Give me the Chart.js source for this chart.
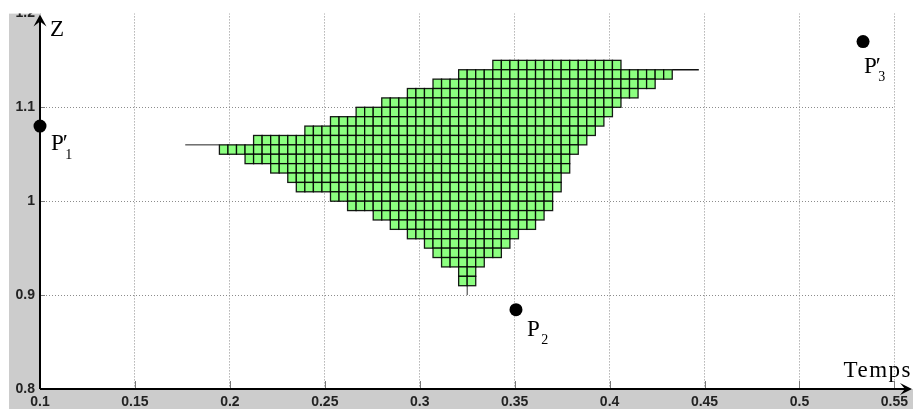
<!DOCTYPE html>
<html>
<head>
<meta charset="utf-8">
<script src="https://cdn.jsdelivr.net/npm/chart.js@4.4.0/dist/chart.umd.min.js"></script>
<style>
  html, body { margin: 0; padding: 0; background: #ffffff; overflow: hidden; }
  #wrap { width: 913px; height: 409px; }
</style>
</head>
<body>
<div id="wrap"><canvas id="c" width="913" height="409"></canvas></div>
<script>
// Axis ticks
const xTickValues = [0.1, 0.15, 0.2, 0.25, 0.3, 0.35, 0.4, 0.45, 0.5, 0.55];
const xTickLabels = ['0.1', '0.15', '0.2', '0.25', '0.3', '0.35', '0.4', '0.45', '0.5', '0.55'];
const yTickValues = [0.8, 0.9, 1.0, 1.1, 1.2];
const yTickLabels = ['0.8', '0.9', '1', '1.1', '1.2'];

// Reachable region: one row of cells per Z band (bottom Z, first and last time edge)
const cellWidth = 0.0045;
const cellHeight = 0.01;
const rowZ     = [1.14,   1.13,   1.12,  1.11,   1.10, 1.09,   1.08,  1.07,   1.06,   1.05,   1.04,  1.03,   1.02,   1.01,   1.00,  0.99,  0.98,   0.97,   0.96,   0.95,   0.94,  0.93,   0.92,   0.91];
const rowStart = [0.3385, 0.3205, 0.307, 0.2935, 0.28, 0.2665, 0.253, 0.2395, 0.2125, 0.1945, 0.208, 0.2215, 0.2305, 0.235,  0.253, 0.262, 0.2755, 0.2845, 0.2935, 0.3025, 0.307, 0.3115, 0.3205, 0.3205];
const rowEnd   = [0.406,  0.433,  0.424, 0.415,  0.406, 0.4015, 0.397, 0.3925, 0.388, 0.3835, 0.379, 0.379,  0.3745, 0.3745, 0.37,  0.37,  0.3655, 0.361,  0.352,  0.3475, 0.343, 0.334,  0.3295, 0.3295];

// Thin boundary segments attached to the region
const leftStubT   = [0.1765, 0.1945];
const leftStubZ   = [1.06, 1.06];
const rightStubT  = [0.433, 0.447];
const rightStubZ  = [1.14, 1.14];
const bottomStubT = [0.325, 0.325];
const bottomStubZ = [0.90, 0.91];

// Named points
const pointBase  = ['P', 'P', 'P'];
const pointSub   = ['1', '2', '3'];
const pointPrime = [true, false, true];
const pointT     = [0.1, 0.3507, 0.5335];
const pointZ     = [1.08, 0.8845, 1.17];

// Label placement (pixel offsets from each point)
const labelDx = [11, 11, 1];
const labelDy = [24, 26, 31];

const toXY = (ts, zs) => ts.map((t, i) => ({ x: t, y: zs[i] }));

const figurePlugin = {
  id: 'figure',
  beforeDraw(chart) {
    const { ctx, chartArea: a } = chart;
    ctx.save();
    ctx.fillStyle = '#ffffff';
    ctx.fillRect(0, 0, chart.width, chart.height);
    ctx.fillStyle = '#cccccc';
    ctx.fillRect(9, a.top, a.left - 9, chart.height - a.top);
    ctx.fillRect(9, a.bottom, chart.width - 9, chart.height - a.bottom);
    ctx.restore();
  },
  beforeDatasetsDraw(chart) {
    const { ctx, chartArea: a } = chart;
    const xs = chart.scales.x, ys = chart.scales.y;
    ctx.save();
    // trim everything above the axes box
    ctx.fillStyle = '#ffffff';
    ctx.fillRect(0, 0, chart.width, a.top);

    // cells
    for (let i = 0; i < rowZ.length; i++) {
      const n = Math.round((rowEnd[i] - rowStart[i]) / cellWidth);
      const yTop = ys.getPixelForValue(rowZ[i] + cellHeight);
      const yBot = ys.getPixelForValue(rowZ[i]);
      for (let j = 0; j < n; j++) {
        const t0 = rowStart[i] + j * cellWidth;
        const x0 = xs.getPixelForValue(t0);
        const x1 = xs.getPixelForValue(t0 + cellWidth);
        ctx.fillStyle = '#8cff80';
        ctx.fillRect(x0, yTop, x1 - x0, yBot - yTop);
        ctx.strokeStyle = 'rgba(0,0,0,0.9)';
        ctx.lineWidth = 1.3;
        ctx.strokeRect(x0, yTop, x1 - x0, yBot - yTop);
      }
    }

    // inward tick marks
    ctx.strokeStyle = '#7a7a7a';
    ctx.lineWidth = 1;
    xTickValues.forEach(v => {
      const x = Math.round(xs.getPixelForValue(v)) + 0.5;
      ctx.beginPath();
      ctx.moveTo(x, a.bottom);
      ctx.lineTo(x, a.bottom - 8);
      ctx.stroke();
    });
    yTickValues.forEach(v => {
      if (v === 1.2) return;
      const y = Math.round(ys.getPixelForValue(v)) + 0.5;
      ctx.beginPath();
      ctx.moveTo(a.left, y);
      ctx.lineTo(a.left + 5, y);
      ctx.stroke();
    });

    // axes with arrow heads
    ctx.strokeStyle = '#000000';
    ctx.fillStyle = '#000000';
    ctx.lineWidth = 2;
    ctx.beginPath();
    ctx.moveTo(a.left, a.bottom);
    ctx.lineTo(a.left, a.top + 6);
    ctx.moveTo(a.left, a.bottom);
    ctx.lineTo(chart.width - 6, a.bottom);
    ctx.stroke();

    ctx.beginPath();
    ctx.moveTo(a.left, a.top + 1);
    ctx.lineTo(a.left - 6.5, a.top + 13);
    ctx.lineTo(a.left, a.top + 8);
    ctx.lineTo(a.left + 6.5, a.top + 13);
    ctx.closePath();
    ctx.fill();

    const tipX = chart.width - 1;
    ctx.beginPath();
    ctx.moveTo(tipX, a.bottom);
    ctx.lineTo(tipX - 12, a.bottom - 6);
    ctx.lineTo(tipX - 7, a.bottom);
    ctx.lineTo(tipX - 12, a.bottom + 6);
    ctx.closePath();
    ctx.fill();
    ctx.restore();
  },
  afterDraw(chart) {
    const { ctx, chartArea: a } = chart;
    const xs = chart.scales.x, ys = chart.scales.y;
    ctx.save();
    ctx.fillStyle = '#000000';
    ctx.textBaseline = 'alphabetic';
    ctx.textAlign = 'left';

    // axis titles
    ctx.font = '23px "Liberation Serif"';
    ctx.fillText('Z', a.left + 10, a.top + 23);
    ctx.letterSpacing = '1.5px';
    ctx.textAlign = 'right';
    ctx.fillText('Temps', chart.width - 1, a.bottom - 12);
    ctx.letterSpacing = '0px';
    ctx.textAlign = 'left';

    // point names
    for (let i = 0; i < pointT.length; i++) {
      const px = xs.getPixelForValue(pointT[i]) + labelDx[i];
      const py = ys.getPixelForValue(pointZ[i]) + labelDy[i];
      ctx.font = '23px "Liberation Serif"';
      ctx.fillText(pointBase[i], px, py);
      const w = ctx.measureText(pointBase[i]).width;
      if (pointPrime[i]) {
        ctx.fillText('\u2032', px + w - 1, py);
      }
      ctx.font = '14px "Liberation Serif"';
      ctx.fillText(pointSub[i], px + w + 1.5, py + 8.5);
    }
    ctx.restore();
  }
};

const gridColor = (ctx) => (ctx.tick && Math.abs(ctx.tick.value - 1.2) < 1e-9) ? 'rgba(0,0,0,0)' : '#8c8c8c';
const tickFont = { family: '"Liberation Sans", Arial, sans-serif', size: 14, weight: 'bold' };

new Chart(document.getElementById('c'), {
  type: 'scatter',
  data: {
    datasets: [
      { data: toXY(leftStubT, leftStubZ), showLine: true, borderColor: '#222222', borderWidth: 1, pointRadius: 0 },
      { data: toXY(rightStubT, rightStubZ), showLine: true, borderColor: '#111111', borderWidth: 1.3, pointRadius: 0 },
      { data: toXY(bottomStubT, bottomStubZ), showLine: true, borderColor: '#333333', borderWidth: 1, pointRadius: 0 },
      { data: toXY(pointT, pointZ), pointRadius: 6.5, pointHoverRadius: 6.5,
        backgroundColor: '#000000', borderColor: '#000000', borderWidth: 0, clip: false }
    ]
  },
  options: {
    responsive: false,
    devicePixelRatio: 1,
    animation: false,
    events: [],
    layout: { padding: { left: 0, right: 13, top: 10, bottom: 0 } },
    plugins: { legend: { display: false }, tooltip: { enabled: false } },
    scales: {
      x: {
        type: 'linear', min: 0.1, max: 0.55,
        afterBuildTicks: s => { s.ticks = xTickValues.map(v => ({ value: v })); },
        afterFit: s => { s.height = 20; },
        ticks: {
          autoSkip: false, maxRotation: 0, padding: 5,
          color: '#222222',
          font: tickFont,
          callback: (v, i) => xTickLabels[i]
        },
        grid: { color: '#8c8c8c', lineWidth: 1, drawTicks: false },
        border: { display: false, dash: [1, 2] }
      },
      y: {
        type: 'linear', min: 0.8, max: 1.2,
        afterBuildTicks: s => { s.ticks = yTickValues.map(v => ({ value: v })); },
        afterFit: s => { s.width = 40; },
        ticks: {
          autoSkip: false, padding: 5,
          color: '#222222',
          font: tickFont,
          callback: (v, i) => yTickLabels[i]
        },
        grid: { color: gridColor, lineWidth: 1, drawTicks: false },
        border: { display: false, dash: [1, 2] }
      }
    }
  },
  plugins: [figurePlugin]
});
</script>
</body>
</html>
